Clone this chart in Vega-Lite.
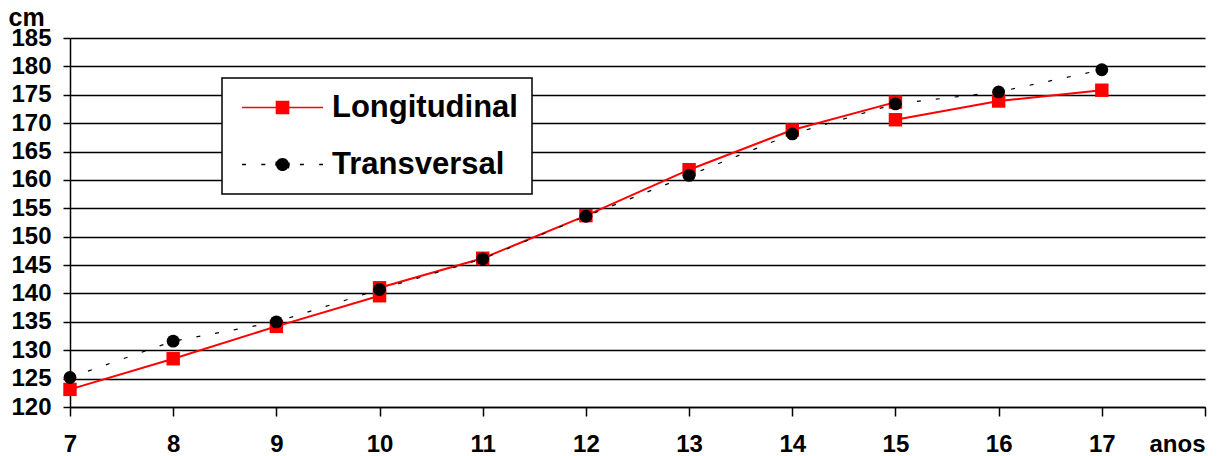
{
  "$schema": "https://vega.github.io/schema/vega-lite/v6.json",
  "width": 1135,
  "height": 369,
  "autosize": "none",
  "padding": {"left": 70, "top": 38, "right": 13, "bottom": 49},
  "background": "white",
  "config": {"view": {"stroke": null}, "font": "Liberation Sans", "legend": {"strokeWidth": 1.5, "symbolFillColor": "black"}},
  "data": {
    "values": [
      {"age": 7, "height": 123.1, "series": "Longitudinal", "cohort": "A"},
      {"age": 8, "height": 128.5, "series": "Longitudinal", "cohort": "A"},
      {"age": 9, "height": 134.2, "series": "Longitudinal", "cohort": "A"},
      {"age": 10, "height": 139.6, "series": "Longitudinal", "cohort": "A"},
      {"age": 10, "height": 141.0, "series": "Longitudinal", "cohort": "B"},
      {"age": 11, "height": 146.2, "series": "Longitudinal", "cohort": "B"},
      {"age": 12, "height": 153.7, "series": "Longitudinal", "cohort": "B"},
      {"age": 13, "height": 161.8, "series": "Longitudinal", "cohort": "B"},
      {"age": 14, "height": 168.8, "series": "Longitudinal", "cohort": "B"},
      {"age": 15, "height": 173.7, "series": "Longitudinal", "cohort": "B"},
      {"age": 15, "height": 170.6, "series": "Longitudinal", "cohort": "C"},
      {"age": 16, "height": 173.9, "series": "Longitudinal", "cohort": "C"},
      {"age": 17, "height": 175.8, "series": "Longitudinal", "cohort": "C"},
      {"age": 7, "height": 125.2, "series": "Transversal", "cohort": "T"},
      {"age": 8, "height": 131.6, "series": "Transversal", "cohort": "T"},
      {"age": 9, "height": 135.0, "series": "Transversal", "cohort": "T"},
      {"age": 10, "height": 140.7, "series": "Transversal", "cohort": "T"},
      {"age": 11, "height": 146.1, "series": "Transversal", "cohort": "T"},
      {"age": 12, "height": 153.6, "series": "Transversal", "cohort": "T"},
      {"age": 13, "height": 160.8, "series": "Transversal", "cohort": "T"},
      {"age": 14, "height": 168.1, "series": "Transversal", "cohort": "T"},
      {"age": 15, "height": 173.4, "series": "Transversal", "cohort": "T"},
      {"age": 16, "height": 175.5, "series": "Transversal", "cohort": "T"},
      {"age": 17, "height": 179.4, "series": "Transversal", "cohort": "T"}
    ]
  },
  "encoding": {
    "x": {
      "field": "age",
      "type": "quantitative",
      "scale": {"domain": [7, 18], "nice": false, "zero": false},
      "axis": {
        "title": null,
        "values": [7, 8, 9, 10, 11, 12, 13, 14, 15, 16, 17, 18],
        "grid": false,
        "domainColor": "black",
        "domainWidth": 1.5,
        "tickColor": "black",
        "tickWidth": 1.5,
        "tickSize": 9,
        "labelPadding": 16,
        "labelFont": "Liberation Sans",
        "labelFontSize": 24,
        "labelFontWeight": "bold",
        "labelColor": "black",
        "labelFlush": false,
        "labelOverlap": false,
        "labelExpr": "datum.value == 18 ? 'anos' : datum.label",
        "labelAlign": {"condition": {"test": "datum.value == 18", "value": "right"}, "value": "center"}
      }
    },
    "y": {
      "field": "height",
      "type": "quantitative",
      "scale": {"domain": [120, 185], "nice": false, "zero": false},
      "axis": {
        "title": "cm",
        "values": [120, 125, 130, 135, 140, 145, 150, 155, 160, 165, 170, 175, 180, 185],
        "grid": true,
        "gridColor": "black",
        "gridWidth": 1.5,
        "gridOpacity": 1,
        "domainColor": "black",
        "domainWidth": 1.5,
        "tickColor": "black",
        "tickWidth": 1.5,
        "tickSize": 7,
        "labelPadding": 12,
        "labelFont": "Liberation Sans",
        "labelFontSize": 24,
        "labelFontWeight": "bold",
        "labelColor": "black",
        "labelOverlap": false,
        "titleAngle": 0,
        "titleAlign": "left",
        "titleBaseline": "alphabetic",
        "titleX": -62,
        "titleY": -13,
        "titleFont": "Liberation Sans",
        "titleFontSize": 25,
        "titleFontWeight": "bold",
        "titleColor": "black"
      }
    }
  },
  "layer": [
    {
      "transform": [{"filter": "datum.series === 'Longitudinal'"}],
      "mark": {"type": "line", "color": "#ff0000", "strokeWidth": 2},
      "encoding": {"detail": {"field": "cohort"}}
    },
    {
      "transform": [{"filter": "datum.series === 'Transversal'"}],
      "mark": {"type": "line", "color": "black", "strokeWidth": 1.2, "strokeDash": [4, 15]},
      "encoding": {}
    },
    {
      "transform": [{"filter": "datum.series === 'Longitudinal'"}],
      "mark": {"type": "point", "shape": "square", "filled": true, "color": "#ff0000", "opacity": 1, "size": 180},
      "encoding": {}
    },
    {
      "transform": [{"filter": "datum.series === 'Transversal'"}],
      "mark": {"type": "point", "shape": "circle", "filled": true, "color": "black", "opacity": 1, "size": 165},
      "encoding": {}
    },
    {
      "mark": {"type": "point", "filled": true, "opacity": 0, "strokeWidth": 1.6, "size": 196},
      "encoding": {
        "fill": {
          "field": "series",
          "type": "nominal",
          "scale": {"domain": ["Longitudinal", "Transversal"], "range": ["#ff0000", "black"]},
          "legend": {
            "orient": "none",
            "legendX": 152,
            "legendY": 40,
            "title": null,
            "fillColor": "white",
            "strokeColor": "black",
            "padding": 14,
            "rowPadding": 25,
            "labelOffset": 65,
            "symbolOffset": 0,
            "symbolSize": 196,
            "symbolOpacity": 1,
            "symbolFillColor": "black",
            "symbolStrokeWidth": 1.6,
            "labelFont": "Liberation Sans",
            "labelFontSize": 31,
            "labelFontWeight": "bold",
            "labelColor": "black",
            "labelLimit": 400
          }
        },
        "stroke": {
          "field": "series",
          "type": "nominal",
          "scale": {"domain": ["Longitudinal", "Transversal"], "range": ["#ff0000", "black"]}
        },
        "shape": {
          "field": "series",
          "type": "nominal",
          "scale": {
            "domain": ["Longitudinal", "Transversal"],
            "range": [
              "M-1.36,0H10.21M3.57,-0.86H5.29V0.86H3.57Z",
              "M-1.36,0H10.21M5.36,0C5.36,0.514 4.944,0.93 4.43,0.93C3.916,0.93 3.5,0.514 3.5,0C3.5,-0.514 3.916,-0.93 4.43,-0.93C4.944,-0.93 5.36,-0.514 5.36,0Z"
            ]
          }
        },
        "strokeDash": {
          "field": "series",
          "type": "nominal",
          "scale": {"domain": ["Longitudinal", "Transversal"], "range": [[1, 0], [4, 15.3]]}
        }
      }
    }
  ]
}
